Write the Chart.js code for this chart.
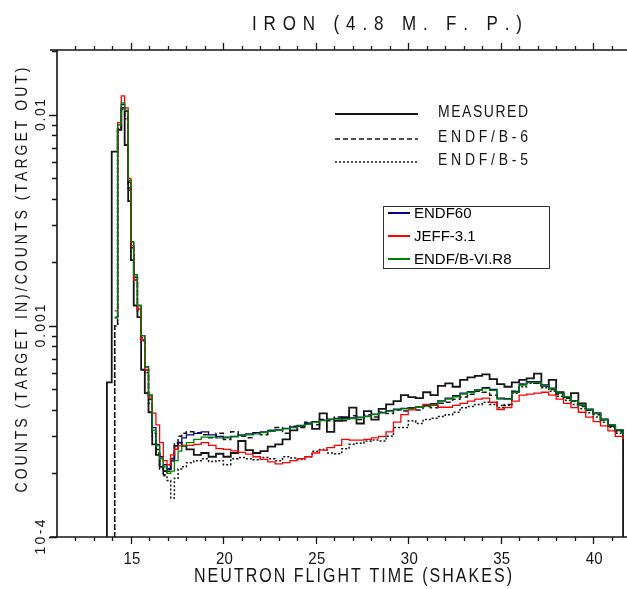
<!DOCTYPE html>
<html>
<head>
<meta charset="utf-8">
<script src="https://cdn.jsdelivr.net/npm/chart.js@4.4.0/dist/chart.umd.min.js"></script>
<style>
  html, body { margin: 0; padding: 0; background: #fff; }
  #wrap { width: 627px; height: 589px; }
</style>
</head>
<body>
<div id="wrap"><canvas id="ironChart"></canvas></div>
<script>
// left bin edges (shakes)
var times = [
  13.50, 13.70, 13.96, 14.12, 14.28, 14.48, 14.66, 14.85, 15.00, 15.15, 15.35, 15.55,
  15.75, 15.95, 16.15, 16.35, 16.55, 16.75, 16.95, 17.15, 17.35, 17.55, 17.75,
  18.0, 18.4, 18.8, 19.2, 19.6,
  20.0, 20.4, 20.8, 21.2, 21.6,
  22.0, 22.4, 22.8, 23.2, 23.6,
  24.0, 24.4, 24.8, 25.2, 25.6,
  26.0, 26.4, 26.8, 27.2, 27.6,
  28.0, 28.4, 28.8, 29.2, 29.6,
  30.0, 30.4, 30.8, 31.2, 31.6,
  32.0, 32.4, 32.8, 33.2, 33.6,
  34.0, 34.4, 34.8, 35.2, 35.6,
  36.0, 36.4, 36.8, 37.2, 37.6,
  38.0, 38.4, 38.8, 39.2, 39.6,
  40.0, 40.4, 40.8, 41.2, 41.62
];

var measured = [
  1e-6, 5.4e-4, 6.7e-3, 6.7e-3, 8.5e-3, 1.08e-2, 7.2e-3, 3.9e-3, 2.05e-3, 1.25e-3, 1.1e-3, 6.2e-4,
  4.8e-4, 3.9e-4, 2.75e-4, 2.45e-4, 2.15e-4, 2.05e-4, 2.1e-4, 2.35e-4, 2.7e-4, 2.8e-4, 2.7e-4,
  2.6e-4, 2.45e-4, 2.5e-4, 2.4e-4, 2.48e-4,
  2.4e-4, 2.5e-4, 2.85e-4, 2.58e-4, 2.5e-4,
  2.55e-4, 2.68e-4, 2.75e-4, 2.9e-4, 3.2e-4,
  3.35e-4, 3.45e-4, 3.25e-4, 3.85e-4, 3.15e-4,
  3.55e-4, 3.7e-4, 4.1e-4, 3.45e-4, 3.95e-4,
  3.6e-4, 4.05e-4, 4.25e-4, 4.4e-4, 4.7e-4,
  4.6e-4, 4.55e-4, 4.85e-4, 4.7e-4, 5.2e-4,
  5.35e-4, 5.15e-4, 5.55e-4, 5.7e-4, 5.8e-4,
  5.9e-4, 5.6e-4, 5.3e-4, 5.15e-4, 5.4e-4,
  5.55e-4, 5.65e-4, 5.95e-4, 5.2e-4, 5.55e-4,
  4.85e-4, 4.6e-4, 4.8e-4, 4.3e-4, 4.0e-4,
  3.85e-4, 3.6e-4, 3.35e-4, 3.2e-4, 1e-6
];

var endfb6 = [
  null, null, 1e-6, 1.0e-3, 8.7e-3, 1.06e-2, 9.8e-3, 4.5e-3, 2.4e-3, 1.7e-3, 1.2e-3, 8.8e-4,
  6.2e-4, 4.5e-4, 3.1e-4, 2.6e-4, 2.2e-4, 1.97e-4, 2.05e-4, 2.3e-4, 2.8e-4, 3.0e-4, 3.1e-4,
  3.15e-4, 3.12e-4, 3.05e-4, 2.95e-4, 3.1e-4,
  2.9e-4, 3.15e-4, 3.0e-4, 2.95e-4, 3.1e-4,
  3.05e-4, 3.2e-4, 3.3e-4, 3.1e-4, 3.35e-4,
  3.3e-4, 3.5e-4, 3.4e-4, 3.6e-4, 3.55e-4,
  3.7e-4, 3.55e-4, 3.75e-4, 3.6e-4, 3.8e-4,
  3.7e-4, 3.9e-4, 3.85e-4, 4.0e-4, 3.95e-4,
  4.05e-4, 4.0e-4, 4.15e-4, 4.1e-4, 4.3e-4,
  4.35e-4, 4.5e-4, 4.6e-4, 4.75e-4, 4.9e-4,
  4.85e-4, 4.7e-4, 4.2e-4, 4.25e-4, 4.9e-4,
  5.3e-4, 5.4e-4, 5.35e-4, 5.2e-4, 5.0e-4,
  4.75e-4, 4.55e-4, 4.4e-4, 4.15e-4, 4.0e-4,
  3.8e-4, 3.58e-4, 3.35e-4, 3.15e-4, 3.0e-4
];

var endfb5 = [
  null, null, 1e-6, 1.0e-3, 8.6e-3, 1.04e-2, 9.6e-3, 4.4e-3, 2.35e-3, 1.65e-3, 1.18e-3, 8.5e-4,
  6.0e-4, 4.3e-4, 3.0e-4, 2.5e-4, 2.1e-4, 1.95e-4, 1.85e-4, 1.53e-4, 1.9e-4, 2.1e-4, 2.15e-4,
  2.25e-4, 2.3e-4, 2.35e-4, 2.28e-4, 2.3e-4,
  2.2e-4, 2.35e-4, 2.38e-4, 2.35e-4, 2.32e-4,
  2.38e-4, 2.35e-4, 2.3e-4, 2.4e-4, 2.37e-4,
  2.33e-4, 2.4e-4, 2.55e-4, 2.6e-4, 2.5e-4,
  2.48e-4, 2.62e-4, 2.75e-4, 2.78e-4, 2.85e-4,
  2.88e-4, 2.85e-4, 3.0e-4, 3.3e-4, 3.3e-4,
  3.55e-4, 3.45e-4, 3.6e-4, 3.65e-4, 3.72e-4,
  3.8e-4, 3.9e-4, 4.1e-4, 4.15e-4, 4.25e-4,
  4.35e-4, 4.25e-4, 4.1e-4, 4.2e-4, 4.8e-4,
  5.15e-4, 5.35e-4, 5.35e-4, 5.1e-4, 4.9e-4,
  4.65e-4, 4.45e-4, 4.25e-4, 4.05e-4, 3.88e-4,
  3.7e-4, 3.5e-4, 3.3e-4, 3.1e-4, 2.98e-4
];

var endf60 = [
  null, null, null, 1.1e-3, 9.0e-3, 1.12e-2, 1.04e-2, 4.8e-3, 2.5e-3, 1.75e-3, 1.25e-3, 9.0e-4,
  6.4e-4, 4.7e-4, 3.3e-4, 2.75e-4, 2.4e-4, 2.2e-4, 2.1e-4, 2.3e-4, 2.6e-4, 2.8e-4, 2.95e-4,
  3.05e-4, 3.1e-4, 3.15e-4, 3.05e-4, 3.0e-4,
  2.97e-4, 3.0e-4, 3.05e-4, 3.08e-4, 3.12e-4,
  3.15e-4, 3.2e-4, 3.22e-4, 3.27e-4, 3.32e-4,
  3.38e-4, 3.45e-4, 3.52e-4, 3.58e-4, 3.62e-4,
  3.65e-4, 3.65e-4, 3.67e-4, 3.7e-4, 3.74e-4,
  3.82e-4, 3.89e-4, 3.97e-4, 4.03e-4, 4.07e-4,
  4.1e-4, 4.14e-4, 4.2e-4, 4.28e-4, 4.42e-4,
  4.55e-4, 4.67e-4, 4.8e-4, 4.88e-4, 4.98e-4,
  5.1e-4, 5.0e-4, 4.55e-4, 4.52e-4, 4.9e-4,
  5.3e-4, 5.45e-4, 5.45e-4, 5.25e-4, 5.07e-4,
  4.82e-4, 4.63e-4, 4.43e-4, 4.22e-4, 4.03e-4,
  3.86e-4, 3.62e-4, 3.4e-4, 3.21e-4, 3.07e-4
];

var jeff31 = [
  null, null, null, 1.18e-3, 9.2e-3, 1.23e-2, 1.08e-2, 5.0e-3, 2.4e-3, 1.65e-3, 1.2e-3, 8.6e-4,
  6.2e-4, 4.6e-4, 3.86e-4, 3.4e-4, 2.8e-4, 2.3e-4, 2.2e-4, 2.45e-4, 2.6e-4, 2.7e-4, 2.72e-4,
  2.72e-4, 2.75e-4, 2.8e-4, 2.72e-4, 2.62e-4,
  2.6e-4, 2.56e-4, 2.52e-4, 2.47e-4, 2.4e-4,
  2.33e-4, 2.27e-4, 2.22e-4, 2.25e-4, 2.3e-4,
  2.35e-4, 2.4e-4, 2.5e-4, 2.58e-4, 2.65e-4,
  2.72e-4, 2.9e-4, 2.88e-4, 2.88e-4, 2.9e-4,
  2.95e-4, 3.0e-4, 3.15e-4, 3.5e-4, 3.8e-4,
  4.0e-4, 4.12e-4, 4.25e-4, 4.2e-4, 4.12e-4,
  4.12e-4, 4.2e-4, 4.3e-4, 4.4e-4, 4.5e-4,
  4.55e-4, 4.35e-4, 4.02e-4, 4.1e-4, 4.4e-4,
  4.7e-4, 4.75e-4, 4.8e-4, 4.85e-4, 4.7e-4,
  4.5e-4, 4.3e-4, 4.1e-4, 3.9e-4, 3.7e-4,
  3.52e-4, 3.36e-4, 3.18e-4, 3.0e-4, 2.93e-4
];

var endfb6r8 = [
  null, null, null, 1.09e-3, 9.0e-3, 1.14e-2, 1.05e-2, 4.9e-3, 2.5e-3, 1.75e-3, 1.25e-3, 9.0e-4,
  6.4e-4, 4.7e-4, 3.2e-4, 2.7e-4, 2.35e-4, 2.15e-4, 2.0e-4, 2.05e-4, 2.3e-4, 2.55e-4, 2.7e-4,
  2.8e-4, 2.9e-4, 2.97e-4, 2.97e-4, 2.95e-4,
  2.95e-4, 2.98e-4, 3.02e-4, 3.05e-4, 3.08e-4,
  3.12e-4, 3.17e-4, 3.2e-4, 3.25e-4, 3.3e-4,
  3.36e-4, 3.43e-4, 3.5e-4, 3.56e-4, 3.6e-4,
  3.62e-4, 3.62e-4, 3.64e-4, 3.68e-4, 3.72e-4,
  3.8e-4, 3.87e-4, 3.95e-4, 4.0e-4, 4.05e-4,
  4.08e-4, 4.12e-4, 4.17e-4, 4.25e-4, 4.4e-4,
  4.5e-4, 4.62e-4, 4.75e-4, 4.85e-4, 4.95e-4,
  5.05e-4, 4.95e-4, 4.5e-4, 4.5e-4, 4.85e-4,
  5.25e-4, 5.4e-4, 5.4e-4, 5.22e-4, 5.05e-4,
  4.8e-4, 4.62e-4, 4.42e-4, 4.22e-4, 4.02e-4,
  3.85e-4, 3.6e-4, 3.4e-4, 3.22e-4, 3.05e-4
];

var xMin = 11, xMax = 41.67;
var yMin = 1e-4, yMax = 0.0203;
var xTickLabels = [15, 20, 25, 30, 35, 40];
var yTickValues = [0.01, 0.001, 0.0001];
var yTickLabels = ['0.01', '0.001', '10-4'];

var ink = '#151515';
var font = '"Liberation Sans", Arial, sans-serif';

function toPoints(vals) {
  var pts = [];
  for (var i = 0; i < times.length; i++) {
    if (vals[i] !== null) pts.push({ x: times[i], y: vals[i] });
  }
  pts.push({ x: xMax, y: vals[vals.length - 1] });
  return pts;
}

function histo(label, vals, color, width, dash) {
  return {
    label: label,
    data: toPoints(vals),
    borderColor: color,
    borderWidth: width,
    borderDash: dash || [],
    stepped: true,
    pointRadius: 0,
    fill: false
  };
}

// plotter style lettering: narrow tall caps spread out over a given width
function plotText(ctx, text, cx, cy, size, capH, width, angle) {
  ctx.save();
  ctx.translate(cx, cy);
  if (angle) ctx.rotate(angle);
  ctx.font = size + 'px ' + font;
  var ws = text.split('').map(function (c) { return ctx.measureText(c).width; });
  var total = ws.reduce(function (s, w) { return s + w; }, 0);
  var gap = text.length > 1 ? (width - total) / (text.length - 1) : 0;
  var sx = 1;
  if (gap < 0) { sx = width / total; gap = 0; }
  var sy = capH / (0.716 * size);
  ctx.scale(sx, sy);
  ctx.textAlign = 'left';
  ctx.textBaseline = 'alphabetic';
  ctx.fillStyle = ink;
  var x = -width / 2 / sx, base = capH / 2 / sy;
  for (var i = 0; i < text.length; i++) {
    ctx.fillText(text[i], x, base);
    x += ws[i] + gap / sx;
  }
  ctx.restore();
}

var plotterAxes = {
  id: 'plotterAxes',
  afterDraw: function (chart) {
    var ctx = chart.ctx, xs = chart.scales.x, ys = chart.scales.y, a = chart.chartArea;
    var ds = chart.data.datasets;
    ctx.save();
    ctx.strokeStyle = ink;
    ctx.lineWidth = 1.6;
    ctx.beginPath();
    ctx.moveTo(a.left, a.top); ctx.lineTo(a.left, a.bottom);
    ctx.moveTo(50, a.bottom); ctx.lineTo(627, a.bottom);
    ctx.moveTo(50, a.top); ctx.lineTo(627, a.top);
    ctx.stroke();

    ctx.lineWidth = 1.3;
    ctx.beginPath();
    for (var t = 12; t <= 41; t++) {
      var px = Math.round(xs.getPixelForValue(t)) + 0.5;
      var len = t % 5 === 0 ? 7 : 4;
      ctx.moveTo(px, a.bottom); ctx.lineTo(px, a.bottom + len);
      ctx.moveTo(px, a.top); ctx.lineTo(px, a.top - len);
    }
    for (var d = -4; d <= -2; d++) {
      for (var m = 1; m <= 9; m++) {
        var v = m * Math.pow(10, d);
        if (v > yMax) break;
        var py = Math.round(ys.getPixelForValue(v)) + 0.5;
        ctx.moveTo(a.left, py); ctx.lineTo(a.left - (m === 1 ? 8 : 5), py);
      }
    }
    ctx.stroke();

    xTickLabels.forEach(function (lab) {
      plotText(ctx, String(lab), xs.getPixelForValue(lab) + 1, 558, 15, 11.5, 17);
    });
    var yWidths = [32, 43, 35];
    yTickValues.forEach(function (v, i) {
      plotText(ctx, yTickLabels[i], 40, ys.getPixelForValue(v), 14, 10, yWidths[i], -Math.PI / 2);
    });

    plotText(ctx, 'IRON (4.8 M. F. P.)', 387, 22.5, 17, 15, 270);
    plotText(ctx, 'NEUTRON FLIGHT TIME (SHAKES)', 353, 574.5, 16, 15, 318);
    plotText(ctx, 'COUNTS (TARGET IN)/COUNTS (TARGET OUT)', 21, 280, 14, 12, 425, -Math.PI / 2);

    // upper legend (original plot)
    var rows = [[3, 'MEASURED', 111, 114], [4, 'ENDF/B-6', 136, 139], [5, 'ENDF/B-5', 159, 162]];
    rows.forEach(function (r) {
      var s = ds[r[0]];
      ctx.save();
      ctx.strokeStyle = s.borderColor;
      ctx.lineWidth = s.borderWidth;
      ctx.setLineDash(s.borderDash);
      ctx.beginPath();
      ctx.moveTo(335, r[3]); ctx.lineTo(418, r[3]);
      ctx.stroke();
      ctx.restore();
      plotText(ctx, r[1], 483, r[2], 14, 12, 90);
    });

    // boxed legend (evaluations)
    ctx.fillStyle = '#fff';
    ctx.fillRect(383.5, 206.5, 166, 62);
    ctx.strokeStyle = '#333';
    ctx.lineWidth = 1;
    ctx.strokeRect(383.5, 206.5, 166, 62);
    var items = [[2, 'ENDF60', 213], [1, 'JEFF-3.1', 236], [0, 'ENDF/B-VI.R8', 259]];
    ctx.font = '15px ' + font;
    ctx.textAlign = 'left';
    ctx.textBaseline = 'middle';
    items.forEach(function (it) {
      ctx.strokeStyle = ds[it[0]].borderColor;
      ctx.lineWidth = 2;
      ctx.beginPath();
      ctx.moveTo(388, it[2]); ctx.lineTo(410, it[2]);
      ctx.stroke();
      ctx.fillStyle = '#000';
      ctx.fillText(it[1], 414, it[2] + 1);
    });
    ctx.restore();
  }
};

document.addEventListener('DOMContentLoaded', function () {
  var ctx = document.getElementById('ironChart').getContext('2d');
  new Chart(ctx, {
    type: 'line',
    data: {
      datasets: [
        histo('ENDF/B-VI.R8', endfb6r8, '#008000', 1.3),
        histo('JEFF-3.1', jeff31, '#ff0000', 1.3),
        histo('ENDF60', endf60, '#000080', 1.3),
        histo('MEASURED', measured, ink, 1.8),
        histo('ENDF/B-6', endfb6, ink, 1.5, [5, 3]),
        histo('ENDF/B-5', endfb5, ink, 1.5, [2, 2])
      ]
    },
    options: {
      responsive: true,
      maintainAspectRatio: false,
      animation: false,
      devicePixelRatio: 1,
      layout: { padding: { left: 57, top: 50, right: 3, bottom: 52 } },
      plugins: { legend: { display: false }, tooltip: { enabled: false } },
      scales: {
        x: { type: 'linear', min: xMin, max: xMax, display: false },
        y: { type: 'logarithmic', min: yMin, max: yMax, display: false }
      }
    },
    plugins: [plotterAxes]
  });
});
</script>
</body>
</html>
